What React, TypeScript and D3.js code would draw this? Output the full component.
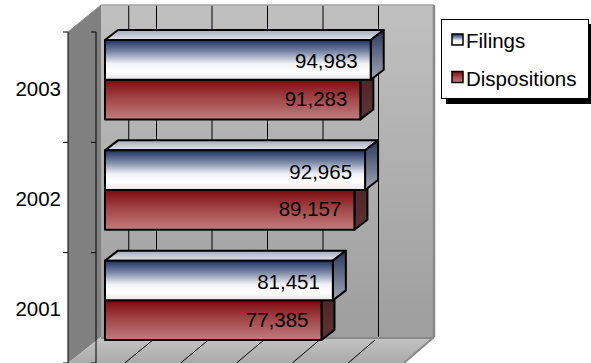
import React from 'react';
import * as d3 from 'd3';

const categories = ['2003', '2002', '2001'];
const filings = [94983, 92965, 81451];
const dispositions = [91283, 89157, 77385];
const seriesNames = ['Filings', 'Dispositions'];
const xMax = 120000;
const wallGridValues = [10000, 20000, 40000, 60000, 80000, 100000];
const floorGridValues = [20000, 40000, 60000, 80000, 100000];

const W = 591;
const H = 363;
const FONT = '"Liberation Sans", Arial, Helvetica, sans-serif';
const FS = 20.5;

// geometry
const backL = 101, backR = 434, backT = 5, backB = 337;
const frontL = 68, frontT = 32, frontB = 363;
const floorFrontR = 404;
const barDX = 13, barDY = -10;

export default function App() {
  const xFront = d3.scaleLinear().domain([0, xMax]).range([105, 105 + 335.7]);
  const xBack = d3.scaleLinear().domain([0, xMax]).range([backL, backR]);
  const xFloor = d3.scaleLinear().domain([0, xMax]).range([frontL + 1, floorFrontR]);
  const yBand = d3.scaleBand<string>().domain(categories).range([frontT, frontB]).padding(0);
  const barH = 39.7;
  const fmt = d3.format(',');

  const poly = (pts: [number, number][]) => pts.map((p) => p.join(',')).join(' ');

  const tickYs = [...categories.map((c) => yBand(c) as number), frontB];

  return (
    <svg width={W} height={H} style={{ position: 'absolute', left: 0, top: 0, background: '#fff' }} fontFamily={FONT}>
      <defs>
        <linearGradient id="backWall" x1="0" y1="0" x2="0" y2="1">
          <stop offset="0" stopColor="#c0c0c0" />
          <stop offset="1" stopColor="#9e9e9e" />
        </linearGradient>
        <linearGradient id="floorG" x1="0" y1="0" x2="0" y2="1">
          <stop offset="0" stopColor="#c4c4c4" />
          <stop offset="1" stopColor="#aaaaaa" />
        </linearGradient>
        <linearGradient id="filFront" x1="0" y1="0" x2="0" y2="1">
          <stop offset="0" stopColor="#1d3163" />
          <stop offset="0.3" stopColor="#7d89a8" />
          <stop offset="0.6" stopColor="#f2f3f7" />
          <stop offset="0.8" stopColor="#ffffff" />
          <stop offset="1" stopColor="#e6e6ea" />
        </linearGradient>
        <linearGradient id="disFront" x1="0" y1="0" x2="0" y2="1">
          <stop offset="0" stopColor="#7c0a0e" />
          <stop offset="0.5" stopColor="#a4494b" />
          <stop offset="1" stopColor="#c27c7e" />
        </linearGradient>
        <linearGradient id="filTop" x1="0" y1="0" x2="0" y2="1">
          <stop offset="0" stopColor="#a3abbf" />
          <stop offset="1" stopColor="#e2e4ea" />
        </linearGradient>
        <linearGradient id="filSide" x1="0" y1="0" x2="0" y2="1">
          <stop offset="0" stopColor="#2a385c" />
          <stop offset="1" stopColor="#a2a8b6" />
        </linearGradient>
        <linearGradient id="disSide" x1="0" y1="0" x2="0" y2="1">
          <stop offset="0" stopColor="#4b2224" />
          <stop offset="1" stopColor="#5e3436" />
        </linearGradient>
      </defs>

      {/* back wall */}
      <rect x={backL} y={backT} width={backR - backL} height={backB - backT} fill="url(#backWall)" />
      {wallGridValues.map((v) => (
        <line key={'g' + v} x1={xBack(v)} x2={xBack(v)} y1={backT} y2={backB} stroke="#000" strokeWidth={1} />
      ))}
      {/* side wall */}
      <polygon points={poly([[frontL, frontT], [backL, backT], [backL, backB], [frontL, frontB]])} fill="#808080" />
      {/* floor */}
      <polygon points={poly([[backL, backB], [backR, backB], [floorFrontR, frontB], [frontL, frontB]])} fill="url(#floorG)" />
      {floorGridValues.map((v) => {
        const x1 = xFloor(v), x2 = xBack(v);
        const t = (frontB - 340) / (frontB - backB);
        return <line key={'f' + v} x1={x1} y1={frontB} x2={x1 + (x2 - x1) * t} y2={340} stroke="#000" strokeWidth={1} />;
      })}
      {/* wall borders */}
      <line x1={backL} x2={backR} y1={backT} y2={backT} stroke="#a4a4a4" strokeWidth={1.5} />
      <line x1={backR} x2={backR} y1={backT} y2={backB} stroke="#8a8a8a" strokeWidth={2.5} />
      <line x1={backL} x2={backR} y1={backB + 1} y2={backB + 1} stroke="#8a8a8a" strokeWidth={2} />
      <line x1={backR} y1={backB} x2={floorFrontR} y2={frontB} stroke="#8a8a8a" strokeWidth={2} />
      <line x1={frontL} y1={frontT} x2={backL} y2={backT} stroke="#8a8a8a" strokeWidth={1} />

      {/* axis lines + ticks */}
      <line x1={frontL} x2={frontL} y1={frontT} y2={frontB} stroke="#000" strokeWidth={1} />
      <line x1={96} x2={96} y1={frontT} y2={frontB} stroke="#000" strokeWidth={1} />
      {tickYs.map((y, i) => (
        <g key={'t' + i}>
          <line x1={frontL - 5} x2={frontL} y1={y} y2={y} stroke="#000" strokeWidth={1} />
          <line x1={91} x2={96} y1={y} y2={y} stroke="#000" strokeWidth={1} />
        </g>
      ))}

      {/* bars */}
      {categories.map((c, i) => {
        const y0 = (yBand(c) as number) + 8;
        const x0 = xFront(0);
        const xF = xFront(filings[i]);
        const xD = xFront(dispositions[i]);
        const yD = y0 + barH;
        return (
          <g key={c} stroke="#000" strokeWidth={2} strokeLinejoin="round">
            <polygon points={poly([[xD, yD], [xD + barDX, yD + barDY], [xD + barDX, yD + barH + barDY], [xD, yD + barH]])} fill="url(#disSide)" />
            <rect x={x0} y={yD} width={xD - x0} height={barH} fill="url(#disFront)" />
            <polygon points={poly([[x0, y0], [x0 + barDX, y0 + barDY], [xF + barDX, y0 + barDY], [xF, y0]])} fill="url(#filTop)" />
            <polygon points={poly([[xF, y0], [xF + barDX, y0 + barDY], [xF + barDX, y0 + barH + barDY], [xF, y0 + barH]])} fill="url(#filSide)" />
            <rect x={x0} y={y0} width={xF - x0} height={barH} fill="url(#filFront)" />
            <text x={xF - 13} y={y0 + barH / 2 + 1} textAnchor="end" dominantBaseline="central" fontSize={FS} stroke="none" fill="#000">{fmt(filings[i])}</text>
            <text x={xD - 13} y={yD + barH / 2 - 1} textAnchor="end" dominantBaseline="central" fontSize={FS} stroke="none" fill="#000">{fmt(dispositions[i])}</text>
          </g>
        );
      })}

      {/* category labels */}
      {categories.map((c) => (
        <text key={'l' + c} x={61} y={(yBand(c) as number) + yBand.bandwidth() / 2 + 1} textAnchor="end" dominantBaseline="central" fontSize={FS} fill="#000">{c}</text>
      ))}

      {/* legend */}
      <rect x={446} y={24} width={148} height={80} fill="#000" />
      <rect x={441.5} y={19.5} width={147} height={79} fill="#fff" stroke="#000" strokeWidth={1} />
      {seriesNames.map((s, i) => {
        const cy = 39.5 + i * 37.5;
        return (
          <g key={s}>
            <rect x={452} y={cy - 5.5} width={11} height={11} fill={i === 0 ? 'url(#filFront)' : 'url(#disFront)'} stroke="#000" strokeWidth={1.5} />
            <text x={466} y={cy + 1} dominantBaseline="central" fontSize={FS} fill="#000">{s}</text>
          </g>
        );
      })}
    </svg>
  );
}
